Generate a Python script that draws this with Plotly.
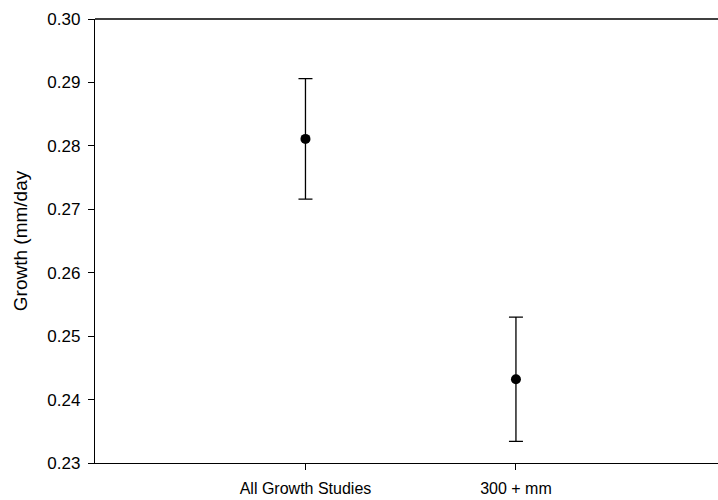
import plotly.graph_objects as go

categories = ["All Growth Studies", "300 + mm"]
cat_pos = [1, 2]
growth = [0.2811, 0.2432]
err = [0.0095, 0.0098]
y_ticks = [0.23, 0.24, 0.25, 0.26, 0.27, 0.28, 0.29, 0.30]
y_ticklabels = ["0.23", "0.24", "0.25", "0.26", "0.27", "0.28", "0.29", "0.30"]

fig = go.Figure()
fig.add_trace(go.Scatter(
    x=cat_pos, y=growth, mode="markers",
    marker=dict(color="black", size=10),
    error_y=dict(type="data", array=err, visible=True, color="black", thickness=1.3, width=7),
    showlegend=False,
))

fig.add_shape(type="line", xref="paper", yref="paper", x0=0, x1=1.01, y0=1, y1=1,
              line=dict(color="black", width=1.3), layer="above")

fig.update_layout(
    width=718, height=500,
    margin=dict(l=95, r=0, t=19, b=37, pad=0),
    paper_bgcolor="white", plot_bgcolor="white",
    font=dict(family="Liberation Sans, Arial, sans-serif", color="black"),
    xaxis=dict(
        range=[0, 2.96], tickvals=cat_pos, ticktext=categories,
        showline=True, linecolor="black", linewidth=1.3,
        ticks="outside", ticklen=6, tickcolor="black", tickwidth=1.3,
        showgrid=False, zeroline=False, tickfont=dict(size=16),
        ticklabelstandoff=5,
    ),
    yaxis=dict(
        range=[0.23, 0.30], tickvals=y_ticks, ticktext=y_ticklabels,
        showline=True, linecolor="black", linewidth=1.3,
        ticks="outside", ticklen=6, tickcolor="black", tickwidth=1.3,
        showgrid=False, zeroline=False, tickfont=dict(size=17),
        ticklabelstandoff=4,
        title=dict(text="Growth (mm/day", font=dict(size=19), standoff=14),
    ),
)

fig.write_html("out.html")
